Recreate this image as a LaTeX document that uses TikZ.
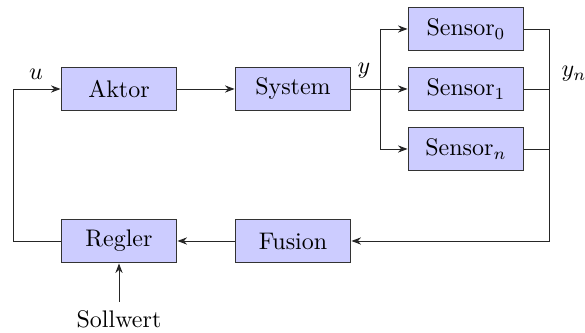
\documentclass[tikz,border=0pt]{standalone}
\usetikzlibrary{arrows.meta}
\begin{document}
\begin{tikzpicture}[x=0.4167pt,y=-0.4167pt,
  block/.style={draw=black!80,fill=blue!20,minimum width=48.3pt,minimum height=18.3pt,inner sep=0pt},
  conn/.style={draw=black!85,-{Stealth[length=4pt,width=3pt]}},
  line/.style={draw=black!85}]
\useasboundingbox (0,0) rectangle (585,333);
\node[block] (aktor) at (119,89) {Aktor};
\node[block] (system) at (293,89) {System};
\node[block] (s0) at (466,29) {Sensor$_0$};
\node[block] (s1) at (466,89) {Sensor$_1$};
\node[block] (sn) at (466,149) {Sensor$_n$};
\node[block] (regler) at (119,241) {Regler};
\node[block] (fusion) at (293,241) {Fusion};
\node (soll) at (119,319) {Sollwert};
\coordinate (br) at (380,89);
\coordinate (br0) at (380,29);
\coordinate (brn) at (380,149);
\coordinate (r0) at (549,29);
\coordinate (rf) at (549,241);
\coordinate (lb) at (13,241);
\coordinate (lt) at (13,89);
\node (ulab) at (36,74) {$u$};
\node (ylab) at (364,71) {$y$};
\node (ynlab) at (574,74) {$y_n$};
\draw[conn] (aktor) -- (system);
\draw[conn] (system) -- (s1);
\draw[conn] (br0) -- (s0);
\draw[conn] (brn) -- (sn);
\draw[line] (br0) -- (brn);
\draw[line] (s0.east) -- (r0);
\draw[line] (s1.east) -- (s1.east -| r0);
\draw[line] (sn.east) -- (sn.east -| r0);
\draw[conn] (r0) -- (rf) -- (fusion);
\draw[conn] (fusion) -- (regler);
\draw[conn] (regler) -- (lb) -- (lt) -- (aktor);
\draw[conn] (soll) -- (regler);
\end{tikzpicture}
\end{document}
